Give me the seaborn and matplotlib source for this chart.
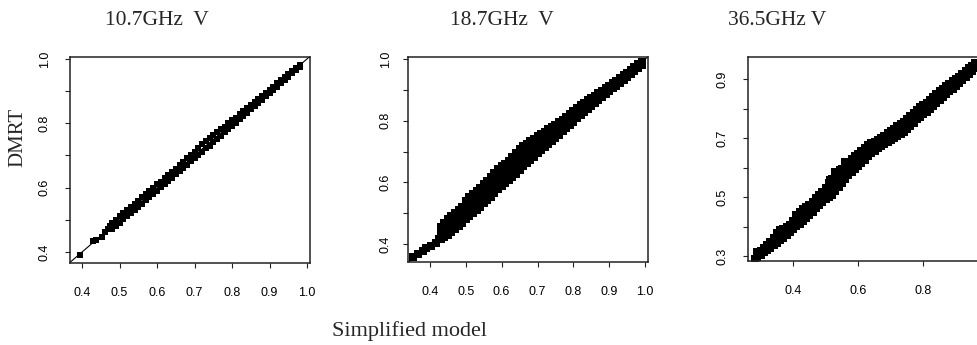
import numpy as np
import pandas as pd
import matplotlib
matplotlib.use("Agg")
import matplotlib.pyplot as plt
import seaborn as sns

# ---------------- data ----------------
titles = ["10.7GHz  V", "18.7GHz  V", "36.5GHz V"]
x_label = "Simplified model"
y_label = "DMRT"

# Panel 1 : 10.7 GHz V  (band edges of the dense scatter)
x_107 = [0.48, 0.49, 0.50, 0.51, 0.52, 0.53, 0.54, 0.55, 0.56, 0.57, 0.58, 0.59,
         0.60, 0.61, 0.62, 0.63, 0.64, 0.65, 0.66, 0.67, 0.68, 0.69, 0.70, 0.71,
         0.72, 0.73, 0.74, 0.75, 0.76, 0.77, 0.78, 0.79, 0.80, 0.81, 0.82, 0.83,
         0.84, 0.85, 0.86, 0.87, 0.88, 0.89, 0.90, 0.91, 0.92, 0.93, 0.94, 0.95,
         0.96, 0.97, 0.98]
y_107_low = [0.472, 0.481, 0.490, 0.502, 0.511, 0.520, 0.531, 0.541, 0.550, 0.561, 0.572, 0.581,
             0.590, 0.601, 0.612, 0.621, 0.630, 0.641, 0.652, 0.661, 0.671, 0.682, 0.691, 0.701,
             0.712, 0.722, 0.731, 0.742, 0.752, 0.762, 0.772, 0.782, 0.792, 0.802, 0.812, 0.822,
             0.833, 0.843, 0.853, 0.863, 0.873, 0.884, 0.894, 0.904, 0.914, 0.925, 0.935, 0.945,
             0.956, 0.966, 0.976]
y_107_high = [0.490, 0.500, 0.511, 0.520, 0.530, 0.541, 0.550, 0.560, 0.570, 0.580, 0.589, 0.600,
              0.610, 0.619, 0.629, 0.640, 0.650, 0.659, 0.669, 0.680, 0.691, 0.701, 0.712, 0.723,
              0.735, 0.746, 0.754, 0.763, 0.772, 0.781, 0.790, 0.800, 0.809, 0.818, 0.828, 0.838,
              0.847, 0.857, 0.866, 0.876, 0.886, 0.895, 0.905, 0.914, 0.924, 0.934, 0.943, 0.953,
              0.962, 0.972, 0.982]
x_107_sparse = [0.395, 0.430, 0.437, 0.452, 0.460, 0.468, 0.475]
y_107_sparse = [0.392, 0.434, 0.438, 0.448, 0.462, 0.471, 0.482]

# Panel 2 : 18.7 GHz V
x_187 = [0.43, 0.44, 0.45, 0.46, 0.47, 0.48, 0.49, 0.50, 0.51, 0.52, 0.53, 0.54,
         0.55, 0.56, 0.57, 0.58, 0.59, 0.60, 0.61, 0.62, 0.63, 0.64, 0.65, 0.66,
         0.67, 0.68, 0.69, 0.70, 0.71, 0.72, 0.73, 0.74, 0.75, 0.76, 0.77, 0.78,
         0.79, 0.80, 0.81, 0.82, 0.83, 0.84, 0.85, 0.86, 0.87, 0.88, 0.89, 0.90,
         0.91, 0.92, 0.93, 0.94, 0.95, 0.96, 0.97, 0.98, 0.99]
y_187_low = [0.418, 0.424, 0.430, 0.440, 0.448, 0.458, 0.468, 0.480, 0.492, 0.502, 0.512, 0.522,
             0.532, 0.542, 0.553, 0.565, 0.578, 0.588, 0.598, 0.608, 0.618, 0.628, 0.640, 0.652,
             0.662, 0.672, 0.684, 0.694, 0.704, 0.714, 0.724, 0.734, 0.745, 0.755, 0.766, 0.776,
             0.786, 0.797, 0.808, 0.818, 0.828, 0.838, 0.848, 0.858, 0.868, 0.878, 0.886, 0.896,
             0.905, 0.914, 0.924, 0.933, 0.942, 0.952, 0.962, 0.972, 0.980]
y_187_q1 = [0.430, 0.439, 0.447, 0.457, 0.465, 0.476, 0.486, 0.500, 0.512, 0.522, 0.532, 0.542,
            0.553, 0.563, 0.575, 0.587, 0.600, 0.609, 0.619, 0.629, 0.639, 0.650, 0.663, 0.674,
            0.683, 0.693, 0.703, 0.713, 0.722, 0.731, 0.740, 0.749, 0.759, 0.769, 0.779, 0.788,
            0.798, 0.809, 0.819, 0.829, 0.838, 0.847, 0.857, 0.866, 0.875, 0.885, 0.893, 0.902,
            0.911, 0.919, 0.929, 0.938, 0.947, 0.956, 0.966, 0.976, 0.983]
y_187_q2 = [0.443, 0.455, 0.463, 0.473, 0.483, 0.494, 0.504, 0.520, 0.532, 0.542, 0.552, 0.562,
            0.573, 0.584, 0.596, 0.610, 0.623, 0.631, 0.639, 0.649, 0.661, 0.673, 0.685, 0.696,
            0.705, 0.713, 0.723, 0.731, 0.739, 0.748, 0.756, 0.765, 0.774, 0.782, 0.791, 0.800,
            0.810, 0.820, 0.831, 0.839, 0.848, 0.857, 0.865, 0.874, 0.883, 0.891, 0.899, 0.908,
            0.916, 0.925, 0.934, 0.943, 0.951, 0.961, 0.970, 0.979, 0.987]
y_187_high = [0.455, 0.470, 0.480, 0.490, 0.500, 0.512, 0.522, 0.540, 0.552, 0.562, 0.572, 0.582,
              0.594, 0.605, 0.618, 0.632, 0.645, 0.652, 0.660, 0.670, 0.682, 0.695, 0.708, 0.718,
              0.726, 0.734, 0.742, 0.750, 0.757, 0.765, 0.772, 0.780, 0.788, 0.796, 0.804, 0.812,
              0.822, 0.832, 0.842, 0.850, 0.858, 0.866, 0.874, 0.882, 0.890, 0.898, 0.906, 0.914,
              0.922, 0.930, 0.939, 0.948, 0.956, 0.965, 0.974, 0.983, 0.990]
x_187_sparse = [0.352, 0.366, 0.380, 0.389, 0.403, 0.417, 0.426]
y_187_sparse = [0.357, 0.368, 0.378, 0.389, 0.395, 0.405, 0.416]

# Panel 3 : 36.5 GHz V
x_365 = [0.29, 0.30, 0.31, 0.32, 0.33, 0.34, 0.35, 0.36, 0.37, 0.38, 0.39, 0.40,
         0.41, 0.42, 0.43, 0.44, 0.45, 0.46, 0.47, 0.48, 0.49, 0.50, 0.51, 0.52,
         0.53, 0.54, 0.55, 0.56, 0.57, 0.58, 0.59, 0.60, 0.61, 0.62, 0.63, 0.64,
         0.65, 0.66, 0.67, 0.68, 0.69, 0.70, 0.71, 0.72, 0.73, 0.74, 0.75, 0.76,
         0.77, 0.78, 0.79, 0.80, 0.81, 0.82, 0.83, 0.84, 0.85, 0.86, 0.87, 0.88,
         0.89, 0.90, 0.91, 0.92, 0.93, 0.94, 0.95, 0.96]
y_365_low = [0.298, 0.304, 0.312, 0.320, 0.328, 0.336, 0.345, 0.354, 0.362, 0.370, 0.380, 0.390,
             0.402, 0.410, 0.418, 0.428, 0.438, 0.450, 0.462, 0.474, 0.484, 0.492, 0.500, 0.508,
             0.520, 0.534, 0.548, 0.562, 0.574, 0.586, 0.596, 0.606, 0.616, 0.626, 0.638, 0.648,
             0.657, 0.665, 0.673, 0.680, 0.686, 0.693, 0.700, 0.707, 0.714, 0.722, 0.732, 0.742,
             0.752, 0.763, 0.772, 0.782, 0.790, 0.800, 0.810, 0.820, 0.830, 0.840, 0.849, 0.858,
             0.868, 0.878, 0.888, 0.898, 0.908, 0.918, 0.927, 0.936]
y_365_mid = [0.305, 0.311, 0.320, 0.329, 0.338, 0.348, 0.361, 0.371, 0.377, 0.384, 0.392, 0.404,
             0.421, 0.430, 0.438, 0.447, 0.456, 0.467, 0.479, 0.491, 0.500, 0.511, 0.524, 0.535,
             0.546, 0.558, 0.571, 0.584, 0.596, 0.608, 0.617, 0.626, 0.636, 0.646, 0.658, 0.666,
             0.672, 0.679, 0.686, 0.694, 0.701, 0.708, 0.716, 0.723, 0.731, 0.739, 0.749, 0.759,
             0.769, 0.779, 0.788, 0.797, 0.805, 0.814, 0.824, 0.834, 0.844, 0.854, 0.862, 0.871,
             0.880, 0.889, 0.898, 0.907, 0.917, 0.927, 0.936, 0.945]
y_365_high = [0.312, 0.318, 0.328, 0.338, 0.348, 0.360, 0.378, 0.388, 0.392, 0.398, 0.405, 0.418,
              0.440, 0.450, 0.458, 0.466, 0.474, 0.484, 0.496, 0.508, 0.516, 0.530, 0.548, 0.562,
              0.572, 0.582, 0.594, 0.606, 0.618, 0.630, 0.638, 0.646, 0.656, 0.666, 0.678, 0.684,
              0.688, 0.694, 0.700, 0.708, 0.716, 0.724, 0.732, 0.740, 0.748, 0.756, 0.766, 0.776,
              0.786, 0.796, 0.804, 0.812, 0.820, 0.828, 0.838, 0.848, 0.858, 0.868, 0.876, 0.884,
              0.892, 0.900, 0.908, 0.917, 0.927, 0.937, 0.946, 0.955]
x_365_sparse = [0.283, 0.512, 0.527, 0.543, 0.558, 0.564]
y_365_sparse = [0.290, 0.558, 0.586, 0.591, 0.620, 0.614]

# axis ranges and ticks
xlims = [(0.368, 1.008), (0.339, 1.008), (0.261, 0.999)]
ylims = [(0.366, 1.006), (0.342, 1.007), (0.283, 0.975)]
xticks = [[0.4, 0.5, 0.6, 0.7, 0.8, 0.9, 1.0],
          [0.4, 0.5, 0.6, 0.7, 0.8, 0.9, 1.0],
          [0.4, 0.6, 0.8]]
yticks = [[0.4, 0.5, 0.6, 0.7, 0.8, 0.9, 1.0],
          [0.4, 0.5, 0.6, 0.7, 0.8, 0.9, 1.0],
          [0.3, 0.4, 0.5, 0.6, 0.7, 0.8, 0.9]]
ytick_labels = [["0.4", "", "0.6", "", "0.8", "", "1.0"],
                ["0.4", "", "0.6", "", "0.8", "", "1.0"],
                ["0.3", "", "0.5", "", "0.7", "", "0.9"]]
xtick_labels = [["0.4", "0.5", "0.6", "0.7", "0.8", "0.9", "1.0"],
                ["0.4", "0.5", "0.6", "0.7", "0.8", "0.9", "1.0"],
                ["0.4", "0.6", "0.8"]]

panels = [
    (x_107, [y_107_low, y_107_high], x_107_sparse, y_107_sparse),
    (x_187, [y_187_low, y_187_q1, y_187_q2, y_187_high], x_187_sparse, y_187_sparse),
    (x_365, [y_365_low, y_365_mid, y_365_high], x_365_sparse, y_365_sparse),
]

# ---------------- drawing ----------------
sns.set_style("ticks")
plt.rcParams['font.family'] = ['Liberation Sans Narrow', 'Liberation Sans', 'DejaVu Sans']

W, H = 977, 345
fig = plt.figure(figsize=(W / 100, H / 100), dpi=100)
fig.patch.set_facecolor("white")

boxes = [(70, 310, 57, 263), (408, 648, 57, 262), (748, 988, 57, 261)]
ypads = [10.5, 8.5, 10.5]
msizes = [22, 32, 26]

for i, (xs, rows, sx, sy) in enumerate(panels):
    l, r, t, b = boxes[i]
    ax = fig.add_axes([l / W, 1 - b / H, (r - l) / W, (b - t) / H])
    df = pd.DataFrame({
        "x": np.concatenate([np.asarray(xs)] * len(rows) + [np.asarray(sx)]),
        "y": np.concatenate([np.asarray(rw) for rw in rows] + [np.asarray(sy)]),
    })
    ax.axline((0.5, 0.5), slope=1, color="black", lw=0.8, zorder=1)
    sns.scatterplot(data=df, x="x", y="y", ax=ax, marker="s", s=msizes[i],
                    color="black", linewidth=0, zorder=2, legend=False)
    ax.set_xlim(*xlims[i])
    ax.set_ylim(*ylims[i])
    ax.set_xticks(xticks[i])
    ax.set_xticklabels(xtick_labels[i])
    ax.set_yticks(yticks[i])
    ax.set_yticklabels(ytick_labels[i], rotation=90, va="center")
    ax.set_xlabel("")
    ax.set_ylabel("")
    for sp in ax.spines.values():
        sp.set_linewidth(1.1)
        sp.set_color("#222222")
        sp.set_visible(True)
    ax.tick_params(axis="both", direction="out", length=3.3, width=0.8,
                   colors="#222222", labelsize=9, labelcolor="black")
    ax.tick_params(axis="x", pad=14.0)
    ax.tick_params(axis="y", pad=ypads[i])
    ax.set_facecolor("white")

serif = ['Liberation Serif', 'DejaVu Serif']
title_x = [157, 502, 777]
for tx, tt in zip(title_x, titles):
    fig.text(tx / W, 1 - 25 / H, tt, ha="center", va="baseline",
             fontsize=15.5, family=serif)

fig.text(18 / W, 1 - 137 / H, y_label, rotation=90, ha="center", va="center",
         fontsize=15, family=serif)
fig.text(410 / W, 1 - 336 / H, x_label, ha="center", va="baseline",
         fontsize=16, family=serif)

fig.savefig("out.png", dpi=100, facecolor="white")
